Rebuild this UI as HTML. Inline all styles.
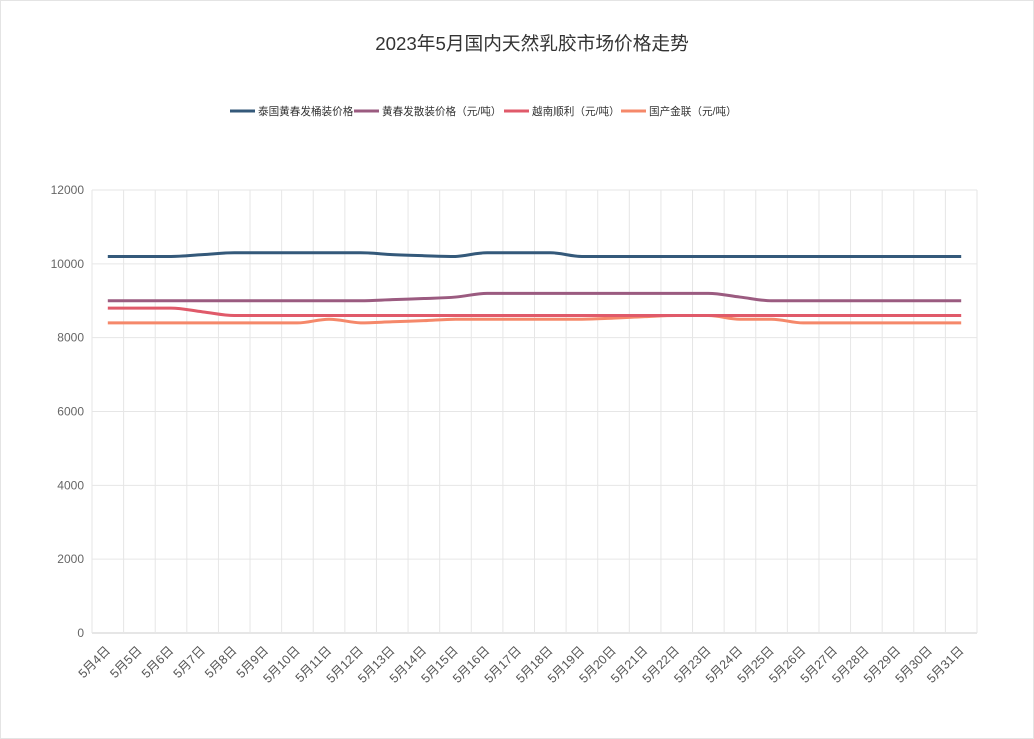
<!DOCTYPE html>
<html><head><meta charset="utf-8"><style>
body{margin:0;background:#fff;}
#wrap{position:relative;width:1032px;height:737px;border:1px solid #e4e4e4;overflow:hidden;}
svg text{font-family:"Liberation Sans","Noto Sans CJK SC",sans-serif;}
</style></head><body>
<div id="wrap">
<svg id="chart" width="1034" height="739">
<text x="531" y="49" text-anchor="middle" font-size="18.7" fill="#333">2023年5月国内天然乳胶市场价格走势</text>
<g id="legend"></g>
<g id="grid"></g>
<g id="yaxis"></g>
<g id="xaxis"></g>
<g id="series"></g>
</svg>
</div>
<script>
const categories = ["5月4日","5月5日","5月6日","5月7日","5月8日","5月9日","5月10日","5月11日","5月12日","5月13日","5月14日","5月15日","5月16日","5月17日","5月18日","5月19日","5月20日","5月21日","5月22日","5月23日","5月24日","5月25日","5月26日","5月27日","5月28日","5月29日","5月30日","5月31日"];
const seriesNames = ["泰国黄春发桶装价格","黄春发散装价格（元/吨）","越南顺利（元/吨）","国产金联（元/吨）"];
const thaiDrum = [10200,10200,10200,10250,10300,10300,10300,10300,10300,10250,10220,10200,10300,10300,10300,10200,10200,10200,10200,10200,10200,10200,10200,10200,10200,10200,10200,10200];
const bulk = [9000,9000,9000,9000,9000,9000,9000,9000,9000,9030,9060,9100,9200,9200,9200,9200,9200,9200,9200,9200,9100,9000,9000,9000,9000,9000,9000,9000];
const vietnam = [8800,8800,8800,8700,8600,8600,8600,8600,8600,8600,8600,8600,8600,8600,8600,8600,8600,8600,8600,8600,8600,8600,8600,8600,8600,8600,8600,8600];
const jinlian = [8400,8400,8400,8400,8400,8400,8400,8500,8400,8430,8460,8500,8500,8500,8500,8500,8530,8570,8600,8600,8500,8500,8400,8400,8400,8400,8400,8400];
const yTicks = [0,2000,4000,6000,8000,10000,12000];
const colors = ["#34597a","#9b5b80","#e05a6a","#f5886a"];
const NS="http://www.w3.org/2000/svg";
const L=91,R=976,T=189,B=632,YMAX=12000;
const bw=(R-L)/categories.length;
const xPos=i=>L+bw*(i+0.5);
const yPos=v=>B-(v/YMAX)*(B-T);
function mk(tag,attrs,parent){const e=document.createElementNS(NS,tag);for(const k in attrs)e.setAttribute(k,attrs[k]);parent.appendChild(e);return e;}
const grid=document.getElementById('grid'),ya=document.getElementById('yaxis'),xa=document.getElementById('xaxis'),sg=document.getElementById('series'),lg=document.getElementById('legend');
yTicks.forEach(t=>{
  const y=yPos(t);
  const ln=mk('line',{x1:L,x2:R,y1:y,y2:y,stroke:t===0?'#ccc':'#e6e6e6','stroke-width':1},grid);
  
  
  const tx=mk('text',{x:83,y:y+4,'text-anchor':'end','font-size':12,fill:'#666'},ya);
  tx.textContent=t;
  
  
});
for(let i=0;i<=categories.length;i++){
  const x=L+bw*i;
  const ln=mk('line',{x1:x,x2:x,y1:T,y2:B,stroke:'#e6e6e6','stroke-width':1},grid);
  
  
}
categories.forEach((c,i)=>{
  const x=xPos(i)-3,y=B+12;
  const tx=mk('text',{x:x,y:y,'text-anchor':'end','font-size':12.5,fill:'#555',transform:`rotate(-45 ${x} ${y})`,'dominant-baseline':'hanging'},xa);
  tx.textContent=c;
  
  
});
function smooth(pts){
  let d=`M${pts[0][0]},${pts[0][1]}`;
  const s=0.35;
  for(let i=0;i<pts.length-1;i++){
    const p0=pts[i-1]||pts[i],p1=pts[i],p2=pts[i+1],p3=pts[i+2]||p2;
    let c1y=p1[1]+(p2[1]-p0[1])*s/2, c2y=p2[1]-(p3[1]-p1[1])*s/2;
    const lo=Math.min(p1[1],p2[1]),hi=Math.max(p1[1],p2[1]);
    c1y=Math.min(hi,Math.max(lo,c1y));c2y=Math.min(hi,Math.max(lo,c2y));
    if(p0[1]===p1[1])c1y=p1[1]; if(p3[1]===p2[1])c2y=p2[1];
    d+=` C${p1[0]+bw*s},${c1y} ${p2[0]-bw*s},${c2y} ${p2[0]},${p2[1]}`;
  }
  return d;
}
const allSeries=[thaiDrum,bulk,vietnam,jinlian];
const snames=['series-thai-drum','series-bulk','series-vietnam','series-jinlian'];
allSeries.slice().reverse().forEach((arr,ri)=>{
  const k=3-ri;
  const p=mk('path',{d:smooth(arr.map((v,i)=>[xPos(i),yPos(v)])),fill:'none',stroke:colors[k],'stroke-width':3,'stroke-linejoin':'round'},sg);
  
  
});
const legX=[229,353,503,620];
seriesNames.forEach((n,k)=>{
  const g=mk('g',{},lg);
  
  
  mk('line',{x1:legX[k],x2:legX[k]+25,y1:110,y2:110,stroke:colors[k],'stroke-width':3},g);
  const t=mk('text',{x:legX[k]+28,y:114,'font-size':10.6,fill:'#333'},g);
  t.textContent=n;
});
</script>
</body></html>
